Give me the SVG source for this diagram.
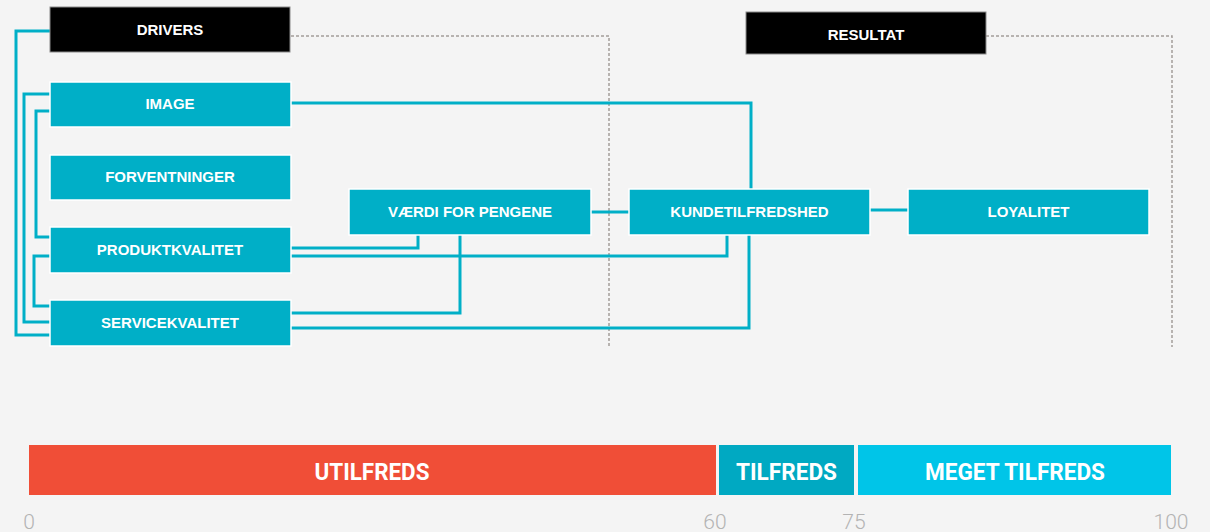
<svg xmlns="http://www.w3.org/2000/svg" width="1210" height="532" viewBox="0 0 1210 532">
<style>
.bg{fill:#f4f4f4}
.box{fill:#00afc7;stroke:#ffffff;stroke-width:1.5}
.hdr{fill:#000000;stroke:#8a8a8a;stroke-width:1}
.lbl{font-family:"Liberation Sans",Arial,sans-serif;font-weight:bold;font-size:15px;fill:#ffffff;text-anchor:middle}
.con{fill:none;stroke:#00afc7;stroke-width:3}
.dash{fill:none;stroke:#a39d99;stroke-width:1.5;stroke-dasharray:3 2}
.bar{font-family:Roboto,"Liberation Sans",sans-serif;font-weight:bold;font-size:24px;fill:#ffffff;text-anchor:middle}
.num{font-family:Roboto,"Liberation Sans",sans-serif;font-weight:300;font-size:21px;fill:#b3b3b3;text-anchor:middle}
</style>
<rect class="bg" x="0" y="0" width="1210" height="532"/>
<g id="dashed">
<path class="dash" d="M291,36 H609 V347"/>
<path class="dash" d="M986,36 H1172 V347"/>
</g>
<g id="connectors">
<path class="con" d="M50,31 H16 V335 H50"/>
<path class="con" d="M50,94 H24 V322 H50"/>
<path class="con" d="M50,111 H36 V237 H50"/>
<path class="con" d="M50,256 H34 V306 H50"/>
<path class="con" d="M291,103 H751 V189"/>
<path class="con" d="M291,248 H418 V235"/>
<path class="con" d="M291,256 H727 V235"/>
<path class="con" d="M291,313 H460 V235"/>
<path class="con" d="M291,328 H749 V235"/>
<path class="con" d="M591,212 H629"/>
<path class="con" d="M870,210 H908"/>
</g>
<g id="drivers"><rect class="hdr" x="50" y="7" width="240" height="45"/><text class="lbl" x="170" y="35">DRIVERS</text></g>
<g id="resultat"><rect class="hdr" x="746" y="12" width="240" height="42"/><text class="lbl" x="866" y="40">RESULTAT</text></g>
<g id="image"><rect class="box" x="50" y="82" width="241" height="45"/><text class="lbl" x="170" y="109">IMAGE</text></g>
<g id="forventninger"><rect class="box" x="50" y="155" width="241" height="45"/><text class="lbl" x="170" y="182">FORVENTNINGER</text></g>
<g id="produktkvalitet"><rect class="box" x="50" y="227" width="241" height="46"/><text class="lbl" x="170" y="255">PRODUKTKVALITET</text></g>
<g id="servicekvalitet"><rect class="box" x="50" y="300" width="241" height="46"/><text class="lbl" x="170" y="328">SERVICEKVALITET</text></g>
<g id="vaerdi"><rect class="box" x="349" y="189" width="242" height="46"/><text class="lbl" x="470" y="217">VÆRDI FOR PENGENE</text></g>
<g id="kundetilfredshed"><rect class="box" x="629" y="189" width="241" height="46"/><text class="lbl" x="749.5" y="217">KUNDETILFREDSHED</text></g>
<g id="loyalitet"><rect class="box" x="908" y="189" width="241" height="46"/><text class="lbl" x="1028.5" y="217">LOYALITET</text></g>
<g id="scale">
<rect x="29" y="445" width="687" height="50" fill="#f04e37"/>
<rect x="719" y="445" width="135" height="50" fill="#00a9c2"/>
<rect x="858" y="445" width="313" height="50" fill="#00c5e8"/>
<text class="bar" x="372" y="480" textLength="115" lengthAdjust="spacingAndGlyphs">UTILFREDS</text>
<text class="bar" x="786.5" y="480" textLength="101" lengthAdjust="spacingAndGlyphs">TILFREDS</text>
<text class="bar" x="1015" y="480" textLength="180" lengthAdjust="spacingAndGlyphs">MEGET TILFREDS</text>
<text class="num" x="29" y="529">0</text>
<text class="num" x="715" y="529">60</text>
<text class="num" x="854" y="529">75</text>
<text class="num" x="1171" y="529">100</text>
</g>
</svg>
